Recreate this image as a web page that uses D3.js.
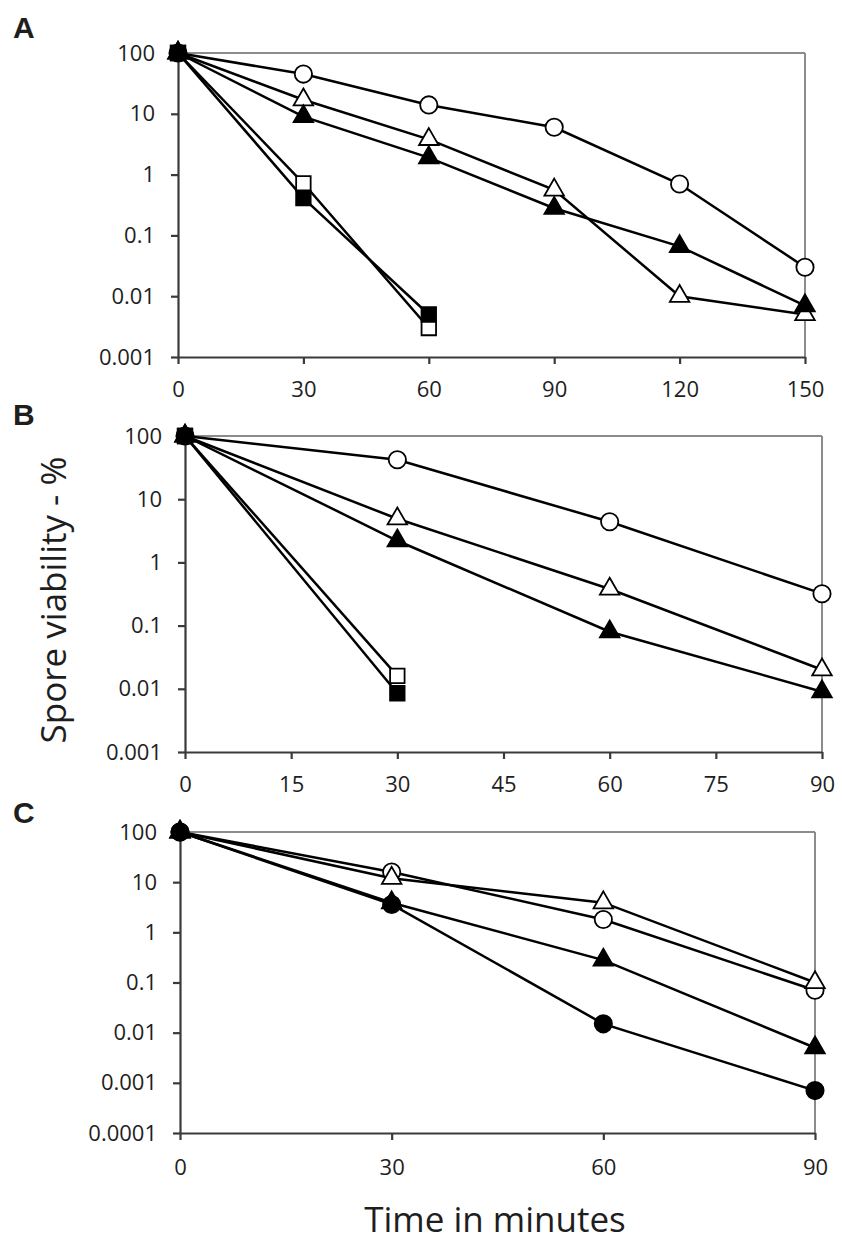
<!DOCTYPE html>
<html>
<head>
<meta charset="utf-8">
<script src="https://cdn.jsdelivr.net/npm/d3@7"></script>
<style>
  body { margin: 0; background: #fff; }
  svg text { font-family: "Open Sans", sans-serif; fill: #1e1e1e; }
</style>
</head>
<body>
<svg width="842" height="1246"></svg>
<script>
// panel A
const timesA = [0, 30, 60, 90, 120, 150];
const openCircleA = [100, 45, 14, 6, 0.7, 0.03];
const openTriangleA = [100, 17, 3.8, 0.56, 0.01, 0.005];
const filledTriangleA = [100, 9, 1.9, 0.28, 0.066, 0.007];
const openSquareA = [100, 0.72, 0.003];
const filledSquareA = [100, 0.41, 0.005];

// panel B
const timesB = [0, 30, 60, 90];
const openCircleB = [100, 42, 4.4, 0.32];
const openTriangleB = [100, 4.9, 0.38, 0.02];
const filledTriangleB = [100, 2.2, 0.08, 0.009];
const openSquareB = [100, 0.016];
const filledSquareB = [100, 0.0085];

// panel C
const timesC = [0, 30, 60, 90];
const openCircleC = [100, 16, 1.8, 0.07];
const openTriangleC = [100, 12, 3.9, 0.1];
const filledTriangleC = [100, 3.9, 0.28, 0.005];
const filledCircleC = [100, 3.6, 0.015, 0.0007];

// ticks
const xTicksA = [0, 30, 60, 90, 120, 150];
const xTicksB = [0, 15, 30, 45, 60, 75, 90];
const xTicksC = [0, 30, 60, 90];
const yTicksAB = [100, 10, 1, 0.1, 0.01, 0.001];
const yTicksC = [100, 10, 1, 0.1, 0.01, 0.001, 0.0001];

const svg = d3.select("svg");

function drawPanel(p) {
  const x = d3.scaleLinear()
    .domain([0, d3.max(p.xTicks)])
    .range([p.left, p.right]);
  const y = d3.scaleLog()
    .domain([d3.min(p.yTicks), d3.max(p.yTicks)])
    .range([p.bottom, p.top]);

  const g = svg.append("g");

  // grey frame on top and right
  g.append("line")
    .attr("x1", p.left).attr("y1", p.top)
    .attr("x2", p.right).attr("y2", p.top)
    .attr("stroke", "#8c8c8c").attr("stroke-width", 2);
  g.append("line")
    .attr("x1", p.right).attr("y1", p.top)
    .attr("x2", p.right).attr("y2", p.bottom)
    .attr("stroke", "#8c8c8c").attr("stroke-width", 2);

  const xAxis = g.append("g")
    .attr("transform", `translate(0,${p.bottom})`)
    .call(d3.axisBottom(x).tickValues(p.xTicks).tickSize(7).tickSizeOuter(0).tickPadding(p.xPad));
  const yAxis = g.append("g")
    .attr("transform", `translate(${p.left},0)`)
    .call(d3.axisLeft(y).tickValues(p.yTicks).tickSize(7).tickSizeOuter(0).tickPadding(16)
      .tickFormat(d => String(d)));

  [xAxis, yAxis].forEach(a => {
    a.selectAll("path, line").attr("stroke", "#3a3a3a").attr("stroke-width", 2.2);
    a.selectAll("text").attr("font-size", 22).attr("fill", "#1e1e1e");
  });

  const line = d3.line()
    .x((d, i) => x(p.times[i]))
    .y(d => y(d));

  p.series.forEach(s => {
    g.append("path")
      .datum(s.values)
      .attr("fill", "none")
      .attr("stroke", "#000")
      .attr("stroke-width", 2.5)
      .attr("d", line);
  });

  p.series.forEach(s => {
    const symbol = d3.symbol().type(s.shape).size(s.size);
    g.selectAll(null)
      .data(s.values)
      .enter().append("path")
      .attr("d", symbol)
      .attr("transform", (d, i) => `translate(${x(p.times[i])},${y(d)})`)
      .attr("fill", s.filled ? "#000" : "#fff")
      .attr("stroke", "#000")
      .attr("stroke-width", 1.8);
  });

  svg.append("text")
    .attr("x", 13)
    .attr("y", p.labelY)
    .attr("font-weight", "bold")
    .attr("font-size", 30)
    .style("font-family", "'Liberation Sans', Arial, sans-serif")
    .text(p.label);
}

const circle = d3.symbolCircle, triangle = d3.symbolTriangle, square = d3.symbolSquare;

drawPanel({
  label: "A", labelY: 38,
  left: 178, right: 805, top: 53, bottom: 357, xPad: 17,
  times: timesA, xTicks: xTicksA, yTicks: yTicksAB,
  series: [
    { values: openCircleA, shape: circle, size: 235, filled: false },
    { values: openTriangleA, shape: triangle, size: 165, filled: false },
    { values: filledTriangleA, shape: triangle, size: 165, filled: true },
    { values: openSquareA, shape: square, size: 210, filled: false },
    { values: filledSquareA, shape: square, size: 210, filled: true }
  ]
});

drawPanel({
  label: "B", labelY: 425,
  left: 185, right: 822, top: 436, bottom: 752, xPad: 17,
  times: timesB, xTicks: xTicksB, yTicks: yTicksAB,
  series: [
    { values: openCircleB, shape: circle, size: 235, filled: false },
    { values: openTriangleB, shape: triangle, size: 165, filled: false },
    { values: filledTriangleB, shape: triangle, size: 165, filled: true },
    { values: openSquareB, shape: square, size: 210, filled: false },
    { values: filledSquareB, shape: square, size: 210, filled: true }
  ]
});

drawPanel({
  label: "C", labelY: 823,
  left: 180, right: 815, top: 832, bottom: 1133, xPad: 19,
  times: timesC, xTicks: xTicksC, yTicks: yTicksC,
  series: [
    { values: openCircleC, shape: circle, size: 235, filled: false },
    { values: openTriangleC, shape: triangle, size: 165, filled: false },
    { values: filledTriangleC, shape: triangle, size: 165, filled: true },
    { values: filledCircleC, shape: circle, size: 235, filled: true }
  ]
});

// axis titles
svg.append("text")
  .attr("transform", "translate(66,600) rotate(-90)")
  .attr("text-anchor", "middle")
  .attr("font-size", 35)
  .text("Spore viability - %");

svg.append("text")
  .attr("x", 495)
  .attr("y", 1232)
  .attr("text-anchor", "middle")
  .attr("font-size", 35)
  .text("Time in minutes");
</script>
</body>
</html>
